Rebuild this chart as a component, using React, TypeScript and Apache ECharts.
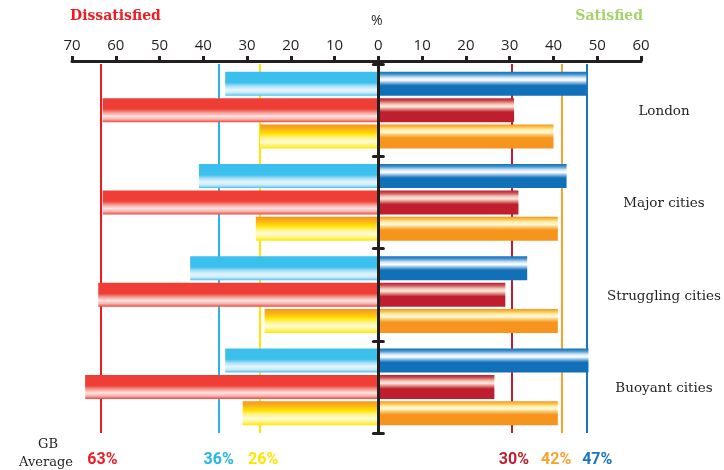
import React, { useEffect, useRef } from "react";
import * as echarts from "echarts";

const categories = ["London", "Major cities", "Struggling cities", "Buoyant cities"];
// Blue pair
const dissatisfiedBlue = [35, 41, 43, 35];
const satisfiedBlue = [47.5, 43, 34, 48];
// Red pair
const dissatisfiedRed = [63, 63, 64, 67];
const satisfiedRed = [31, 32, 29, 26.5];
// Yellow / orange pair
const dissatisfiedYellow = [27, 28, 26, 31];
const satisfiedOrange = [40, 41, 41, 41];
// GB averages (signed: negative = dissatisfied side)
const gbAverageValues = [-63.5, -36.5, -27, 30.5, 42, 47.5];
const gbAverageLabels = ["63%", "36%", "26%", "30%", "42%", "47%"];
const gbAverageColors = ["#ed1c24", "#27b5e6", "#ffe600", "#be1e2d", "#f9a12e", "#1b75bc"];
const gbLabelShift = [2, 0, 3, 2, -6, 11];
const xTicks = { min: -70, max: 60, interval: 10 };

const grad = (stops: [number, string][]) =>
  new echarts.graphic.LinearGradient(
    0, 0, 0, 1,
    stops.map(([offset, color]) => ({ offset, color }))
  );

const leftBlueFill = grad([
  [0, "#3bbfec"], [0.45, "#3bbfec"], [0.6, "#a9e0f6"], [0.75, "#e3f5fd"], [0.88, "#c8ebfa"], [1, "#4cc3ee"],
]);
const rightBlueFill = grad([
  [0, "#1070b8"], [0.1, "#3f8fcc"], [0.25, "#d6e9f7"], [0.35, "#ffffff"], [0.45, "#8fbde3"], [0.58, "#1070b8"], [1, "#1070b8"],
]);
const leftRedFill = grad([
  [0, "#ef3e36"], [0.45, "#ef3e36"], [0.6, "#f59a90"], [0.75, "#fde3e4"], [0.88, "#f7b2ac"], [1, "#ef4a40"],
]);
const rightRedFill = grad([
  [0, "#be1e2d"], [0.1, "#c9474e"], [0.25, "#f4c3b6"], [0.35, "#fde9e0"], [0.45, "#e49389"], [0.58, "#be1e2d"], [1, "#be1e2d"],
]);
const leftYellowFill = grad([
  [0, "#f7941d"], [0.2, "#fbb616"], [0.38, "#ffe200"], [0.55, "#fff48a"], [0.72, "#fffbd8"], [0.88, "#fff36e"], [1, "#ffe600"],
]);
const rightOrangeFill = grad([
  [0, "#f7941d"], [0.1, "#fbc04a"], [0.22, "#fff0a8"], [0.32, "#fffbe0"], [0.44, "#fbc463"], [0.56, "#f7941d"], [1, "#f7941d"],
]);

const ink = "#231f20";

export default function App() {
  const ref = useRef<HTMLDivElement>(null);
  useEffect(() => {
    if (!ref.current) return;
    const chart = echarts.init(ref.current, null, { renderer: "svg", width: 724, height: 470 });
    const barBase = { type: "bar", barWidth: 24, barGap: "10%", xAxisIndex: 0, yAxisIndex: 0, z: 2 };
    const gridBox = { left: 72, right: 83, top: 64, bottom: 37, containLabel: false };
    chart.setOption({
      animation: false,
      grid: [gridBox, { ...gridBox, z: 10 }],
      xAxis: [
        {
          type: "value",
          gridIndex: 0,
          position: "top",
          offset: 3,
          min: xTicks.min,
          max: xTicks.max,
          interval: xTicks.interval,
          axisLine: { show: true, lineStyle: { color: ink, width: 3 } },
          axisTick: { show: true, length: 5, lineStyle: { color: ink, width: 3 } },
          splitLine: { show: false },
          axisLabel: {
            formatter: (v: number) => String(Math.abs(v)),
            color: ink,
            fontSize: 15,
            fontFamily: "Open Sans",
            margin: 10,
          },
        },
        {
          type: "value",
          gridIndex: 1,
          min: xTicks.min,
          max: xTicks.max,
          interval: xTicks.interval,
          show: false,
        },
      ],
      yAxis: [
        {
          type: "category",
          gridIndex: 0,
          data: categories,
          inverse: true,
          z: 10,
          axisLine: { show: true, onZero: true, lineStyle: { color: ink, width: 3 } },
          axisTick: { show: true, length: 5, lineStyle: { color: ink, width: 3, cap: "round" } },
          axisLabel: { show: false },
        },
        {
          type: "category",
          gridIndex: 0,
          data: categories,
          inverse: true,
          position: "right",
          axisLine: { show: false },
          axisTick: { show: false },
          axisLabel: {
            align: "center",
            margin: 23,
            color: ink,
            fontSize: 13.5,
            fontFamily: "DejaVu Serif",
          },
        },
        {
          type: "category",
          gridIndex: 1,
          data: categories,
          inverse: true,
          z: 10,
          axisLine: { show: true, onZero: true, lineStyle: { color: ink, width: 3 } },
          axisTick: { show: true, inside: true, length: 5, lineStyle: { color: ink, width: 3, cap: "round" } },
          axisLabel: { show: false },
        },
      ],
      series: [
        {
          ...barBase, name: "Dissatisfied blue", stack: "blue",
          data: dissatisfiedBlue.map((v) => -v),
          itemStyle: { color: leftBlueFill },
          markLine: {
            silent: true,
            symbol: ["none", "none"],
            z: 1,
            data: gbAverageValues.map((v, i) => ({
              xAxis: v,
              lineStyle: { color: gbAverageColors[i], width: 2, type: "solid" },
              label: {
                show: true,
                position: "end",
                distance: 17,
                offset: [gbLabelShift[i], 0],
                formatter: gbAverageLabels[i],
                color: gbAverageColors[i],
                fontSize: 16,
                fontWeight: "bold",
                fontFamily: "Liberation Sans Narrow, Roboto, sans-serif",
              },
            })),
          },
        },
        { ...barBase, name: "Satisfied blue", stack: "blue", data: satisfiedBlue, itemStyle: { color: rightBlueFill } },
        { ...barBase, name: "Dissatisfied red", stack: "red", data: dissatisfiedRed.map((v) => -v), itemStyle: { color: leftRedFill } },
        { ...barBase, name: "Satisfied red", stack: "red", data: satisfiedRed, itemStyle: { color: rightRedFill } },
        { ...barBase, name: "Dissatisfied yellow", stack: "yellow", data: dissatisfiedYellow.map((v) => -v), itemStyle: { color: leftYellowFill } },
        { ...barBase, name: "Satisfied orange", stack: "yellow", data: satisfiedOrange, itemStyle: { color: rightOrangeFill } },
      ],
      graphic: [
        {
          type: "text", left: 70, top: 8,
          style: { text: "Dissatisfied", fill: "#ed1c24", font: "bold 14px 'DejaVu Serif'" },
        },
        {
          type: "text", right: 81, top: 8,
          style: { text: "Satisfied", fill: "#a5d36b", font: "bold 14px 'DejaVu Serif'" },
        },
        {
          type: "text", left: 371, top: 12,
          style: { text: "%", fill: ink, font: "14px 'Open Sans'" },
        },
        {
          type: "text", x: 48, y: 443,
          style: { text: "GB", fill: ink, font: "13px 'DejaVu Serif'", align: "center", verticalAlign: "middle" },
        },
        {
          type: "text", x: 46, y: 461,
          style: { text: "Average", fill: ink, font: "13px 'DejaVu Serif'", align: "center", verticalAlign: "middle" },
        },
      ],
    });
    return () => chart.dispose();
  }, []);
  return (
    <div
      ref={ref}
      style={{ position: "fixed", left: 0, top: 0, width: 724, height: 470, overflow: "hidden" }}
    />
  );
}
